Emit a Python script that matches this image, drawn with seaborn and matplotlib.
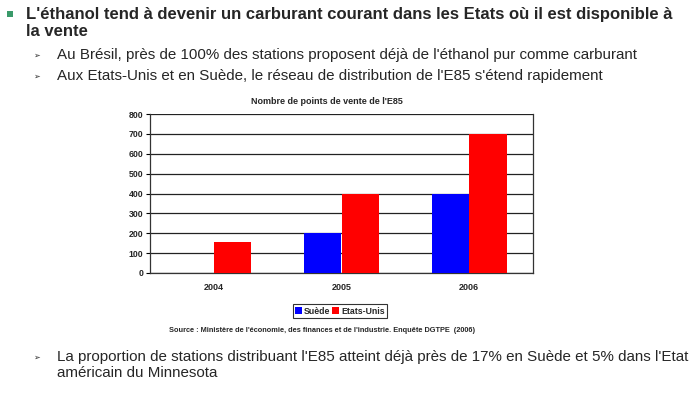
import numpy as np
import pandas as pd
import seaborn as sns
from matplotlib import pyplot as plt
from matplotlib.patches import Rectangle

# Data
years = ['2004', '2005', '2006']
suede = [0, 200, 400]
etats_unis = [155, 400, 700]
countries = ['Suède', 'Etats-Unis']
bar_colors = ['#0000FF', '#FF0000']
y_ticks = [0, 100, 200, 300, 400, 500, 600, 700, 800]

title_lines = ["L'éthanol tend à devenir un carburant courant dans les Etats où il est disponible à",
               "la vente"]
bullets_top = ["Au Brésil, près de 100% des stations proposent déjà de l'éthanol pur comme carburant",
               "Aux Etats-Unis et en Suède, le réseau de distribution de l'E85 s'étend rapidement"]
bullet_bottom = ["La proportion de stations distribuant l'E85 atteint déjà près de 17% en Suède et 5% dans l'Etat",
                 "américain du Minnesota"]
chart_title = "Nombre de points de vente de l'E85"
source = "Source : Ministère de l'économie, des finances et de l'industrie. Enquête DGTPE  (2006)"

df = pd.DataFrame({
    'year': years * 2,
    'country': [countries[0]] * 3 + [countries[1]] * 3,
    'value': suede + etats_unis,
})

W, H = 700, 393

def fx(x):
    return x / W

def fy(y):
    return 1 - y / H

sns.set_style('white')
plt.rcParams['font.family'] = ['Liberation Sans', 'DejaVu Sans']

fig = plt.figure(figsize=(7, 3.93), dpi=100)
ax = fig.add_axes([fx(150), fy(273), fx(533) - fx(150), fy(114) - fy(273)])

sns.barplot(data=df, x='year', y='value', hue='country', palette=bar_colors,
            width=0.59, gap=0, linewidth=0, saturation=1, ax=ax, zorder=3)

ax.set_ylim(0, 800)
ax.set_xlim(-0.5, 2.5)
ax.set_yticks(y_ticks)
ax.set_yticklabels([str(v) for v in y_ticks], fontsize=6.3, fontweight='bold')
ax.set_xticks(range(3))
ax.set_xticklabels(years, fontsize=6.5, fontweight='bold')
ax.set_xticks([-0.5, 0.5, 1.5, 2.5], minor=True)
ax.tick_params(axis='x', which='major', length=0, pad=7)
ax.tick_params(axis='x', which='minor', length=3, width=0.8, color='black', direction='out')
ax.tick_params(axis='y', length=3, width=0.8, color='black', direction='out', pad=2, left=True)
ax.set_xlabel('')
ax.set_ylabel('')
ax.grid(axis='y', color='#222222', linewidth=0.9, zorder=1)
ax.set_axisbelow(True)
for side in ['left', 'right', 'bottom']:
    ax.spines[side].set_color('#333333')
    ax.spines[side].set_linewidth(0.9)
ax.spines['top'].set_visible(False)

leg = ax.legend(loc='center', bbox_to_anchor=(fx(340), fy(311)), bbox_transform=fig.transFigure,
                ncol=2, frameon=True, fancybox=False, edgecolor='black', handlelength=0.8,
                handleheight=0.8, handletextpad=0.2, columnspacing=0.2, borderpad=0.3,
                prop={'size': 6.3, 'weight': 'bold'})
leg.get_frame().set_linewidth(0.8)

fig.text(fx(327), fy(102), chart_title, fontsize=6.5, fontweight='bold', ha='center', va='center')
fig.text(fx(322), fy(331), source, fontsize=5.3, fontweight='bold', ha='center', va='center')

# Slide text
fig.patches.append(Rectangle((fx(7), fy(17)), fx(5.5), fy(0) - fy(5.5), transform=fig.transFigure,
                             facecolor='#3A9A6A', edgecolor='none'))
fig.text(fx(26), fy(19), title_lines[0], fontsize=12, fontweight='bold', va='baseline')
fig.text(fx(26), fy(36), title_lines[1], fontsize=12, fontweight='bold', va='baseline')

for text, yb in zip(bullets_top, [59, 80]):
    fig.text(fx(33), fy(yb - 1), '➢', fontsize=5.8, family=['DejaVu Sans'], va='baseline')
    fig.text(fx(57), fy(yb), text, fontsize=10.9, va='baseline')

fig.text(fx(33), fy(360), '➢', fontsize=5.8, family=['DejaVu Sans'], va='baseline')
fig.text(fx(57), fy(361), bullet_bottom[0], fontsize=10.9, va='baseline')
fig.text(fx(57), fy(377), bullet_bottom[1], fontsize=10.9, va='baseline')

fig.savefig('out.png', dpi=100)
